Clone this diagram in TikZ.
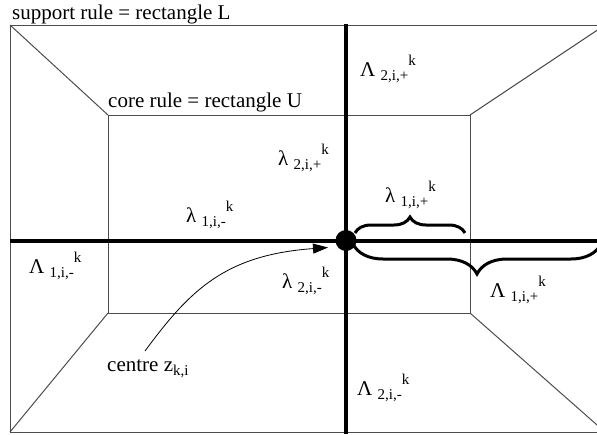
\documentclass[tikz,border=0pt]{standalone}
\usepackage{fontspec}
\setmainfont{Liberation Serif}
\usetikzlibrary{arrows.meta,decorations.pathreplacing}
\newcommand{\mylbl}[2]{#1 \raisebox{-4.5pt}{\fontsize{15}{15}\selectfont #2}\raisebox{11pt}{\fontsize{15}{15}\selectfont k}}
\tikzset{
  thin line/.style={draw=black!70, line width=1pt},
  thick axis/.style={draw=black, line width=4pt},
  lbl/.style={anchor=base west, inner sep=0pt, font=\fontsize{21}{21}\selectfont},
  bracestyle/.style={draw=black, line width=3pt, decorate},
}
\begin{document}
\begin{tikzpicture}[x=1pt, y=-1pt]
\useasboundingbox (0,0) rectangle (597,434);
\clip (0,0) rectangle (597,434);
% corners
\coordinate (OTL) at (10,25);
\coordinate (OTR) at (605,25);
\coordinate (OBL) at (10,432);
\coordinate (OBR) at (605,432);
\coordinate (ITL) at (108,115);
\coordinate (ITR) at (470,115);
\coordinate (IBL) at (108,313);
\coordinate (IBR) at (470,313);
% outer rectangle L
\draw[thin line] (OTR) -- (OTL) -- (OBL) -- (OBR);
% inner rectangle U
\draw[thin line] (ITL) -- (ITR) -- (IBR) -- (IBL) -- cycle;
% diagonals
\draw[thin line] (OTL) -- (ITL);
\draw[thin line] (OTR) -- (ITR);
\draw[thin line] (OBL) -- (IBL);
\draw[thin line] (OBR) -- (IBR);
% axes
\coordinate (HL) at (10,240.5);
\coordinate (HR) at (600,240.5);
\coordinate (VT) at (346,24);
\coordinate (VB) at (346,434);
\draw[thick axis] (HL) -- (HR);
\draw[thick axis] (VT) -- (VB);
% centre dot
\node[circle, fill=black, minimum size=21pt, inner sep=0pt] (dot) at (346,240.5) {};
% braces
\coordinate (b1a) at (355,233);
\coordinate (b1b) at (465,233);
\draw[bracestyle, decoration={brace, amplitude=16pt}] (b1a) -- (b1b);
\coordinate (b2a) at (353,244);
\coordinate (b2b) at (601,244);
\draw[bracestyle, decoration={brace, mirror, amplitude=30pt}] (b2a) -- (b2b);
% labels
\node[lbl] (supp) at (12,19) {support rule = rectangle L};
\node[lbl] (core) at (108,107) {core rule = rectangle U};
\node[lbl] (L2p) at (360,76) {\mylbl{Λ}{2,i,+}};
\node[lbl] (l2p) at (278,165) {\mylbl{λ}{2,i,+}};
\node[lbl] (l1m) at (186,222) {\mylbl{λ}{1,i,-}};
\node[lbl] (L1m) at (29,273) {\mylbl{Λ}{1,i,-}};
\node[lbl] (l2m) at (282,288) {\mylbl{λ}{2,i,-}};
\node[lbl] (l1p) at (385,202) {\mylbl{λ}{1,i,+}};
\node[lbl] (L1p) at (490,297) {\mylbl{Λ}{1,i,+}};
\node[lbl] (L2m) at (357,395) {\mylbl{Λ}{2,i,-}};
\node[lbl] (centre) at (107,371) {centre z\raisebox{-4pt}{\fontsize{15}{15}\selectfont k,i}};
% arrow
\coordinate (arrstart) at (145,351);
\coordinate (arrtip) at (328,247.5);
\draw[black, line width=0.8pt, -{Triangle[length=15pt,width=10pt]}]
  (arrstart) .. controls (190,290) and (225,255) .. (arrtip);
\end{tikzpicture}
\end{document}
